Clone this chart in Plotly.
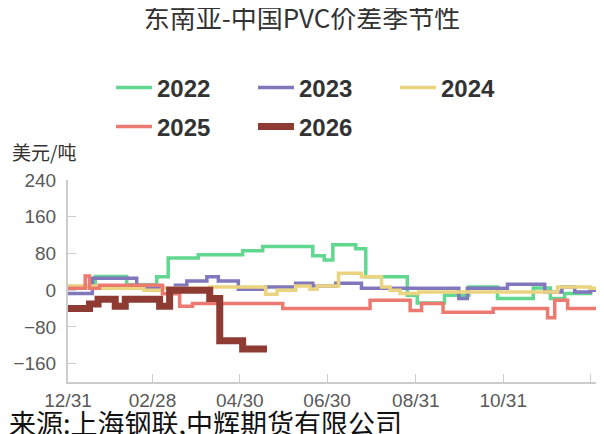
import pandas as pd
import plotly.graph_objects as go

# days counted from 12/31 of previous year, values in USD/t
base = pd.Timestamp("2025-12-31")

day_2022 = [0, 19, 41, 62, 70, 91, 122, 136, 171, 179, 185, 201, 208, 237, 244, 263, 280, 300, 325, 337, 347, 365, 380]
val_2022 = [8, 30, 12, 29, 70, 77, 86, 95, 75, 66, 99, 90, 29, -11, -28, -11, 7, -18, 5, -18, -7, 2, 2]

day_2023 = [0, 17, 48, 75, 83, 97, 105, 119, 138, 159, 171, 187, 205, 273, 279, 307, 333, 345, 354, 365, 380]
val_2023 = [-7, 26, 4, 11, 20, 29, 20, 2, 7, 15, 9, 15, 4, -18, 4, 13, -4, 7, -4, 0, 0]

day_2024 = [0, 22, 53, 66, 99, 138, 146, 159, 169, 174, 189, 205, 219, 225, 232, 245, 342, 365, 380]
val_2024 = [9, 4, 0, 4, 7, -9, 0, 9, 2, 9, 37, 29, 7, 0, -7, -4, 7, 4, 4]

day_2025 = [0, 12, 15, 22, 66, 78, 87, 150, 211, 239, 247, 262, 297, 335, 340, 349, 380]
val_2025 = [4, 31, 4, 11, -8, -35, -29, -40, -22, -44, -29, -48, -40, -60, -22, -40, -40]

day_2026 = [0, 15, 21, 33, 40, 64, 71, 99, 106, 122, 139]
val_2026 = [-40, -30, -20, -35, -20, -35, 0, -18, -110, -128, -128]

series = [
    ("2022", day_2022, val_2022, "#62d790", 3.5, "legend"),
    ("2023", day_2023, val_2023, "#8077bd", 3.5, "legend"),
    ("2024", day_2024, val_2024, "#ebd47f", 3.5, "legend"),
    ("2025", day_2025, val_2025, "#ed7a70", 3.5, "legend2"),
    ("2026", day_2026, val_2026, "#8e3b33", 7, "legend2"),
]

tick_days = [0, 59, 120, 181, 243, 304, 365]
tick_text = ["12/31", "02/28", "04/30", "06/30", "08/31", "10/31", "12/31"]

fig = go.Figure()
for name, days, vals, color, width, leg in series:
    fig.add_trace(go.Scatter(
        x=base + pd.to_timedelta(days, unit="D"), y=vals, name=name,
        mode="lines", line=dict(color=color, width=width, shape="hv"),
        legend=leg,
    ))

tick_font = dict(family="Liberation Sans, Arial", size=19, color="#595959")
leg_font = dict(family="Liberation Sans, Arial", size=24, color="#333333", weight="bold")

# page body adds an 8px offset, so the layout is shifted up/left by 8px
fig.update_layout(
    width=604, height=434,
    margin=dict(l=60, r=0, t=172, b=60, autoexpand=False),
    plot_bgcolor="white", paper_bgcolor="white",
    title=dict(text="东南亚-中国PVC价差季节性", x=294 / 604, xanchor="center", y=1 - 11 / 434,
               yanchor="middle", font=dict(family="Noto Sans CJK SC", size=26, color="#333333")),
    xaxis=dict(
        type="date",
        range=[base, base + pd.Timedelta(days=380)],
        tickvals=base + pd.to_timedelta(tick_days, unit="D"), ticktext=tick_text,
        showgrid=False, zeroline=False, showline=True, linecolor="#cccccc", linewidth=2,
        ticks="inside", ticklen=8, tickcolor="#cccccc", tickfont=tick_font,
    ),
    yaxis=dict(
        range=[-200, 240], tickvals=[-160, -80, 0, 80, 160, 240],
        showgrid=False, zeroline=False, showline=True, linecolor="#cccccc", linewidth=2,
        ticks="inside", ticklen=8, tickcolor="#cccccc", tickfont=tick_font,
        ticklabelstandoff=6,
    ),
    legend=dict(orientation="h", xref="container", yref="container", x=103 / 604, y=1 - 80 / 434,
                xanchor="left", yanchor="middle", font=leg_font, entrywidth=91, itemwidth=36,
                bgcolor="rgba(0,0,0,0)"),
    legend2=dict(orientation="h", xref="container", yref="container", x=103 / 604, y=1 - 119 / 434,
                 xanchor="left", yanchor="middle", font=leg_font, entrywidth=91, itemwidth=36,
                 bgcolor="rgba(0,0,0,0)"),
    annotations=[
        dict(text="美元/吨", xref="paper", yref="paper", x=-58 / 544, y=1 + 28 / 202, xanchor="left",
             yanchor="middle", showarrow=False,
             font=dict(family="Noto Sans CJK SC", size=19, color="#333333")),
        dict(text="来源:上海钢联,中辉期货有限公司", xref="paper", yref="paper", x=-61 / 544,
             y=-40 / 202, xanchor="left", yanchor="middle", showarrow=False,
             font=dict(family="Noto Sans CJK SC", size=27, color="#111111")),
    ],
)

fig.write_html("out.html")
